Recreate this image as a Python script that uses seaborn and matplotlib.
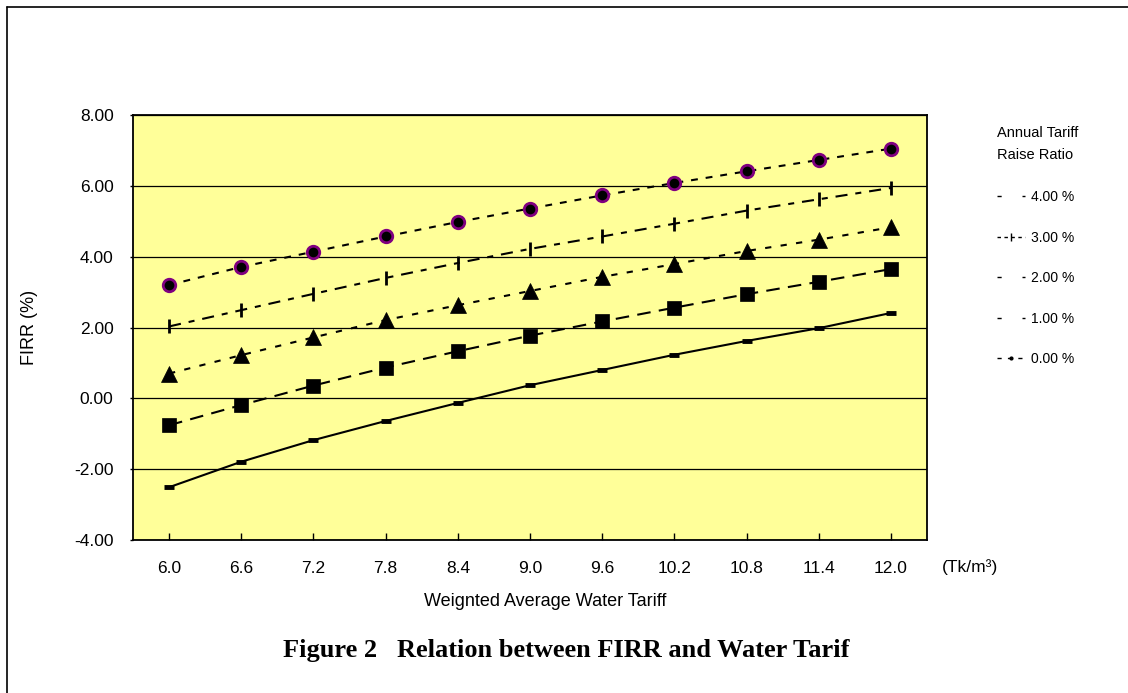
import numpy as np
import pandas as pd
import matplotlib
matplotlib.use("Agg")
import matplotlib.pyplot as plt
from matplotlib.lines import Line2D
import seaborn as sns

# ---------------- data ----------------
tariffs = ["6.0", "6.6", "7.2", "7.8", "8.4", "9.0", "9.6", "10.2", "10.8", "11.4", "12.0"]
firr_4pct = [3.20, 3.71, 4.14, 4.57, 4.98, 5.36, 5.73, 6.08, 6.41, 6.73, 7.05]
firr_3pct = [2.03, 2.49, 2.95, 3.40, 3.82, 4.22, 4.57, 4.93, 5.30, 5.62, 5.94]
firr_2pct = [0.70, 1.22, 1.72, 2.21, 2.63, 3.03, 3.43, 3.79, 4.16, 4.48, 4.83]
firr_1pct = [-0.76, -0.19, 0.36, 0.87, 1.33, 1.77, 2.17, 2.56, 2.94, 3.29, 3.65]
firr_0pct = [-2.51, -1.79, -1.18, -0.64, -0.13, 0.37, 0.80, 1.23, 1.62, 1.98, 2.41]
series_labels = ["4.00 %", "3.00 %", "2.00 %", "1.00 %", "0.00 %"]
y_ticks = [-4, -2, 0, 2, 4, 6, 8]

sns.set_theme(style="white")
plt.rcParams["font.family"] = ["Liberation Sans", "DejaVu Sans"]
for k in ["text.color", "axes.labelcolor", "xtick.color", "ytick.color", "axes.edgecolor"]:
    plt.rcParams[k] = "black"

W, H = 1128, 693
fig = plt.figure(figsize=(W / 100, H / 100), dpi=100)
fig.patch.set_facecolor("white")

L, R, T, B = 133, 927, 115, 540
ax = fig.add_axes([L / W, 1 - B / H, (R - L) / W, (B - T) / H])
ax.set_facecolor("#FFFF99")

pos = np.arange(len(tariffs))
df = pd.DataFrame({"pos": pos, "f4": firr_4pct, "f3": firr_3pct, "f2": firr_2pct,
                   "f1": firr_1pct, "f0": firr_0pct})

lw = 1.5
sns.lineplot(data=df, x="pos", y="f0", ax=ax, color="black", lw=lw,
             linestyle="-", marker="_", markersize=7, markeredgewidth=3.5,
             markeredgecolor="black", zorder=3)
sns.lineplot(data=df, x="pos", y="f1", ax=ax, color="black", lw=lw,
             linestyle=(0, (6.5, 4.0)), marker="s", markersize=10,
             markerfacecolor="black", markeredgecolor="black", markeredgewidth=0.5, zorder=3)
sns.lineplot(data=df, x="pos", y="f2", ax=ax, color="black", lw=lw,
             linestyle=(0, (3.0, 4.5)), marker="^", markersize=11.5,
             markerfacecolor="black", markeredgecolor="black", markeredgewidth=0.5, zorder=3)
sns.lineplot(data=df, x="pos", y="f3", ax=ax, color="black", lw=lw,
             linestyle=(0, (5.8, 3.8, 2.9, 3.8)), marker="|", markersize=10,
             markeredgecolor="black", markeredgewidth=2.0, zorder=3)
sns.lineplot(data=df, x="pos", y="f4", ax=ax, color="black", lw=lw,
             linestyle=(0, (3.3, 3.8)), marker="o", markersize=9,
             markerfacecolor="black", markeredgecolor="#800080", markeredgewidth=2.0, zorder=4)

# axes limits / ticks
ax.set_xlim(-0.5, len(tariffs) - 0.5)
ax.set_ylim(-4, 8)
ax.set_yticks(y_ticks)
ax.set_yticklabels([f"{v:.2f}" for v in y_ticks], fontsize=12.5)
ax.set_xticks(np.arange(-0.5, len(tariffs), 1.0))
ax.set_xticklabels([""] * (len(tariffs) + 1))
ax.set_xticks(pos, minor=True)
ax.set_xticklabels(tariffs, minor=True, fontsize=12.5)
ax.tick_params(axis="x", which="major", direction="inout", length=12, width=1, color="black")
ax.tick_params(axis="x", which="minor", direction="in", length=5, width=1, color="black", pad=15,
               bottom=True)
ax.tick_params(axis="y", which="major", direction="out", length=2, width=1, color="black", pad=12,
               left=True)
ax.yaxis.grid(True, color="black", lw=0.9)
ax.xaxis.grid(False)
for s in ax.spines.values():
    s.set_color("black")
    s.set_linewidth(1.3)
    s.set_visible(True)

ax.set_xlabel("Weignted Average Water Tariff", fontsize=13, va="center")
ax.xaxis.set_label_coords((545 - L) / (R - L), -(602 - B) / (B - T))
ax.set_ylabel("FIRR (%)", fontsize=13, va="center")
ax.yaxis.set_label_coords((30 - L) / (R - L), 0.5)

fig.text(942 / W, 1 - 567 / H, "(Tk/m³)", fontsize=12.5, ha="left", va="center")

# title
fig.text(566 / W, 1 - 650 / H, "Figure 2   Relation between FIRR and Water Tarif",
         family=["Liberation Serif", "DejaVu Serif"], weight="bold", fontsize=19,
         ha="center", va="center")

# legend
fig.text(997 / W, 1 - 133 / H, "Annual Tariff", fontsize=10.5, ha="left", va="center")
fig.text(997 / W, 1 - 155 / H, "Raise Ratio", fontsize=10.5, ha="left", va="center")
handles = [
    Line2D([], [], color="black", lw=1, linestyle=(0, (3, 15))),
    Line2D([], [], color="black", lw=1, linestyle=(0, (2.5, 2.5)), marker="|", markersize=6,
           markeredgewidth=1),
    Line2D([], [], color="black", lw=1, linestyle=(0, (3, 15))),
    Line2D([], [], color="black", lw=1, linestyle=(0, (3, 15))),
    Line2D([], [], color="black", lw=1, linestyle=(0, (3, 4.5)), marker="o", markersize=2),
]
leg = fig.legend(handles, series_labels, loc="upper left",
                 bbox_to_anchor=(997 / W, 1 - 190 / H), frameon=False, fontsize=10,
                 labelspacing=1.91, handlelength=2.0, handletextpad=0.45, borderpad=0,
                 borderaxespad=0)

# figure border (left and top)
fig.add_artist(Line2D([7 / W, 7 / W], [0, 1 - 7 / H], color="black", lw=1.2,
                      transform=fig.transFigure))
fig.add_artist(Line2D([7 / W, 1], [1 - 7 / H, 1 - 7 / H], color="black", lw=1.2,
                      transform=fig.transFigure))

fig.savefig("out.png", dpi=100, facecolor="white")
